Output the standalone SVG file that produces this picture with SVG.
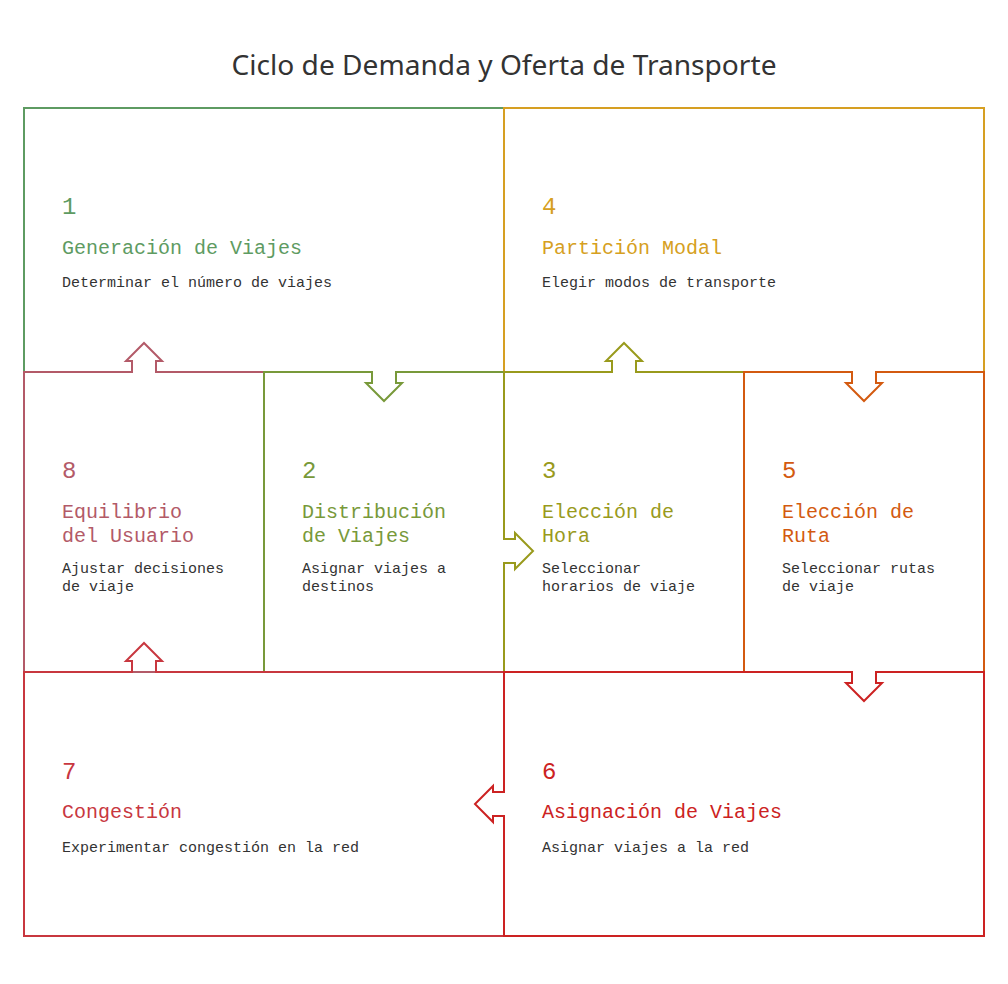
<svg xmlns="http://www.w3.org/2000/svg" width="1008" height="984" viewBox="0 0 1008 984">
<style>
.box{fill:none;stroke-width:2;stroke-linejoin:miter}
.cover{fill:#ffffff;stroke:none}
.num{font-family:"Liberation Mono","DejaVu Sans Mono",monospace;font-size:24px}
.ttl{font-family:"Liberation Mono","DejaVu Sans Mono",monospace;font-size:20px}
.dsc{font-family:"Liberation Mono","DejaVu Sans Mono",monospace;font-size:15px;fill:#333333}
.head{font-family:"Noto Sans","Liberation Sans",sans-serif;font-size:28px;font-weight:normal;fill:#333333}
.s1{stroke:#5e9b62}.f1{fill:#5e9b62}
.s2{stroke:#78993a}.f2{fill:#78993a}
.s3{stroke:#999a1c}.f3{fill:#999a1c}
.s4{stroke:#d69f22}.f4{fill:#d69f22}
.s5{stroke:#d35a10}.f5{fill:#d35a10}
.s6{stroke:#cc2222}.f6{fill:#cc2222}
.s7{stroke:#c8373f}.f7{fill:#c8373f}
.s8{stroke:#b35a68}.f8{fill:#b35a68}
</style>
<rect width="1008" height="984" fill="#ffffff"/>
<text class="head" x="504" y="75" text-anchor="middle" textLength="545" lengthAdjust="spacingAndGlyphs">Ciclo de Demanda y Oferta de Transporte</text>

<g id="node1">
<path class="box s1" d="M24,108 H504 V372 H24 Z"/>
<text class="num f1" x="62" y="214">1</text>
<text class="ttl f1" x="62" y="254">Generación de Viajes</text>
<text class="dsc" x="62" y="287">Determinar el número de viajes</text>
</g>

<g id="node4">
<path class="box s4" d="M504,108 H984 V372 H504 Z"/>
<text class="num f4" x="542" y="214">4</text>
<text class="ttl f4" x="542" y="254">Partición Modal</text>
<text class="dsc" x="542" y="287">Elegir modos de transporte</text>
</g>

<g id="node8">
<rect class="cover" x="132" y="370" width="24" height="4"/>
<path class="box s8" d="M24,372 H132 V361 H126 L144,343 L162,361 H156 V372 H264 V672 H24 Z"/>
<text class="num f8" x="62" y="478">8</text>
<text class="ttl f8" x="62" y="518">Equilibrio</text>
<text class="ttl f8" x="62" y="542">del Usuario</text>
<text class="dsc" x="62" y="573">Ajustar decisiones</text>
<text class="dsc" x="62" y="591">de viaje</text>
</g>

<g id="node2">
<rect class="cover" x="372" y="370" width="24" height="4"/>
<path class="box s2" d="M264,372 H372 V383 H366 L384,401 L402,383 H396 V372 H504 V672 H264 Z"/>
<text class="num f2" x="302" y="478">2</text>
<text class="ttl f2" x="302" y="518">Distribución</text>
<text class="ttl f2" x="302" y="542">de Viajes</text>
<text class="dsc" x="302" y="573">Asignar viajes a</text>
<text class="dsc" x="302" y="591">destinos</text>
</g>

<g id="node3">
<rect class="cover" x="612" y="370" width="24" height="4"/>
<rect class="cover" x="502" y="539" width="4" height="24"/>
<path class="box s3" d="M504,372 H612 V361 H606 L624,343 L642,361 H636 V372 H744 V672 H504 V563 H515 V569 L533,551 L515,533 V539 H504 Z"/>
<text class="num f3" x="542" y="478">3</text>
<text class="ttl f3" x="542" y="518">Elección de</text>
<text class="ttl f3" x="542" y="542">Hora</text>
<text class="dsc" x="542" y="573">Seleccionar</text>
<text class="dsc" x="542" y="591">horarios de viaje</text>
</g>

<g id="node5">
<rect class="cover" x="852" y="370" width="24" height="4"/>
<path class="box s5" d="M744,372 H852 V383 H846 L864,401 L882,383 H876 V372 H984 V672 H744 Z"/>
<text class="num f5" x="782" y="478">5</text>
<text class="ttl f5" x="782" y="518">Elección de</text>
<text class="ttl f5" x="782" y="542">Ruta</text>
<text class="dsc" x="782" y="573">Seleccionar rutas</text>
<text class="dsc" x="782" y="591">de viaje</text>
</g>

<g id="node7">
<path class="box s7" d="M24,672 H132 V661 H126 L144,643 L162,661 H156 V672 H504 V936 H24 Z"/>
<text class="num f7" x="62" y="779">7</text>
<text class="ttl f7" x="62" y="818">Congestión</text>
<text class="dsc" x="62" y="852">Experimentar congestión en la red</text>
</g>

<g id="node6">
<rect class="cover" x="852" y="670" width="24" height="4"/>
<rect class="cover" x="502" y="792" width="4" height="24"/>
<path class="box s6" d="M504,672 H852 V683 H846 L864,701 L882,683 H876 V672 H984 V936 H504 V816 H493 V822 L475,804 L493,786 V792 H504 Z"/>
<text class="num f6" x="542" y="779">6</text>
<text class="ttl f6" x="542" y="818">Asignación de Viajes</text>
<text class="dsc" x="542" y="852">Asignar viajes a la red</text>
</g>

<g id="connectors"></g>
</svg>
